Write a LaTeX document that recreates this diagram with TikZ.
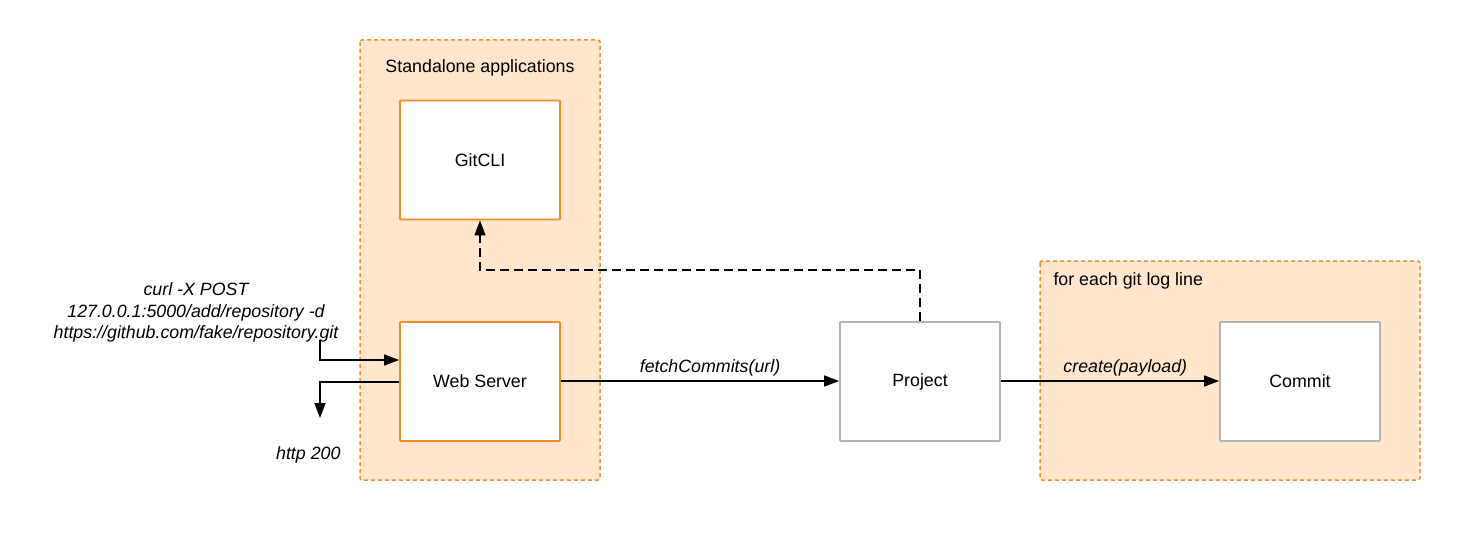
\documentclass[tikz,border=0pt]{standalone}
\usepackage{fontspec}
\setmainfont{Liberation Sans}
\usetikzlibrary{arrows.meta}
\definecolor{grpfill}{HTML}{FFE6CC}
\definecolor{grpline}{HTML}{F0922E}
\definecolor{boxline}{HTML}{F28C28}
\definecolor{grayline}{HTML}{B3B3B3}
\begin{document}
\begin{tikzpicture}[x=1pt,y=-1pt,
  group/.style={draw=grpline,fill=grpfill,dashed,dash pattern=on 4pt off 3pt,line width=1.5pt,rounded corners=2pt},
  obox/.style={draw=boxline,fill=white,line width=1.8pt,rounded corners=1pt,minimum width=160pt,minimum height=119pt,inner sep=0pt,font=\fontsize{17.8}{21}\selectfont},
  gbox/.style={obox,draw=grayline},
  lbl/.style={font=\fontsize{17.8}{21}\selectfont},
  ilbl/.style={font=\fontsize{17.8}{21.5}\selectfont\itshape},
  arr/.style={-{Triangle[length=15pt,width=11pt]},line width=1.5pt},
  darr/.style={arr,dashed,dash pattern=on 9pt off 5pt,line width=1.1pt}]
\useasboundingbox (0,0) rectangle (1460,535);
\draw[group] (360,40) rectangle (600,480);
\draw[group] (1040,261) rectangle (1420,480);
\node[lbl] (grp1) at (480,68) {Standalone applications};
\node[lbl,anchor=west] (grp2) at (1050,281) {for each git log line};
\node[obox] (git) at (480,160) {GitCLI};
\node[obox] (web) at (480,381.5) {Web Server};
\node[gbox] (proj) at (920,381.5) {Project};
\node[gbox] (commit) at (1300,381.5) {Commit};
\draw[arr] (web.east |- 0,381) -- node[ilbl,above=1pt,pos=0.536] (fc) {fetchCommits(url)} (proj.west |- 0,381);
\draw[arr] (proj.east |- 0,381) -- node[ilbl,above=1pt,pos=0.57] (cr) {create(payload)} (commit.west |- 0,381);
\draw[darr] (proj.north) -- (920,270) -- (480,270) -- (git.south);
\node[ilbl,align=center] (curl) at (196,312.5) {curl -X POST\\127.0.0.1:5000/add/repository -d\\https://github.com/fake/repository.git};
\coordinate (cin) at (320,340);
\coordinate (cout) at (320,418);
\node[ilbl,anchor=east] (http) at (344,455) {http 200};
\draw[arr] (cin) -- (320,360) -- (web.west |- 0,360);
\draw[arr] (web.west |- 0,382) -- (320,382) -- (cout);
\end{tikzpicture}
\end{document}
